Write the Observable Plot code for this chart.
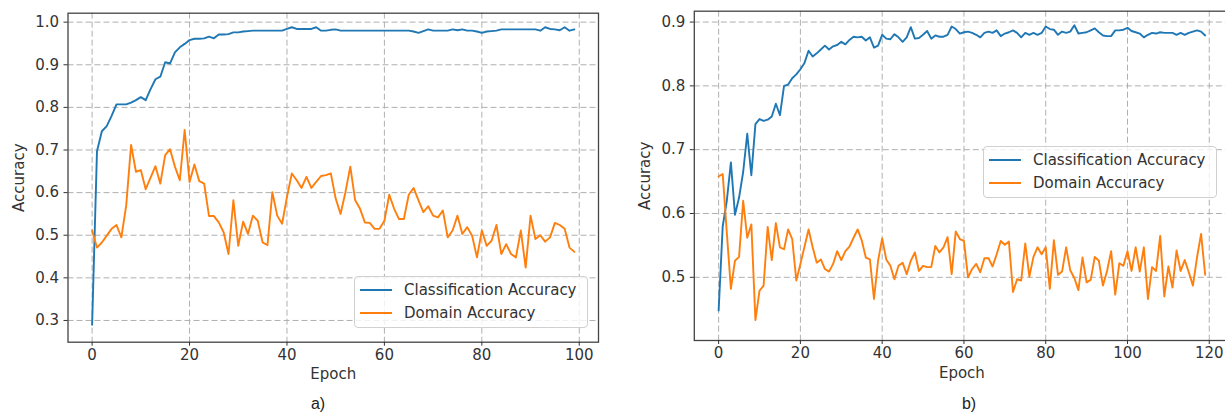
<!DOCTYPE html>
<html>
<head>
<meta charset="utf-8">
<script src="https://cdn.jsdelivr.net/npm/d3@7"></script>
<script src="https://cdn.jsdelivr.net/npm/@observablehq/plot@0.6"></script>
<style>
  html, body { margin: 0; padding: 0; background: #fff; }
  body { width: 1225px; height: 416px; overflow: hidden; position: relative; font-family: "DejaVu Sans", sans-serif; }
  .panel { position: absolute; top: 0; }
  .legend { position: absolute; background: rgba(255,255,255,0.8); border: 1px solid #d0d0d0; border-radius: 4px; box-sizing: border-box; font-family: "DejaVu Sans", sans-serif; font-size: 15px; color: #333; }
  .legend .row { position: absolute; left: 0; height: 20px; line-height: 20px; white-space: nowrap; }
  .legend .swatch { position: absolute; left: 5px; top: 9px; width: 32px; height: 2px; }
  .legend .lab { position: absolute; left: 49px; top: 0; }
  .caption { position: absolute; font-family: "Liberation Sans", Arial, sans-serif; font-size: 16px; color: #222; transform: translateX(-50%); }
</style>
</head>
<body>
<div id="pa" class="panel" style="left:0px; width:610px;"></div>
<div id="pb" class="panel" style="left:620px; width:620px;"></div>
<script>
// ---- data ----
const seriesNames = ["Classification Accuracy", "Domain Accuracy"];
const seriesColors = ["#1f77b4", "#ff7f0e"];
const xLabel = "Epoch";
const yLabel = "Accuracy";
const panelCaptions = ["a)", "b)"];

const aXTicks = [0, 20, 40, 60, 80, 100];
const aYTicks = [0.3, 0.4, 0.5, 0.6, 0.7, 0.8, 0.9, 1.0];
const bXTicks = [0, 20, 40, 60, 80, 100, 120];
const bYTicks = [0.5, 0.6, 0.7, 0.8, 0.9];

// panel a) epochs 0..99
const aClassification = [
  0.29, 0.697, 0.744, 0.756, 0.78, 0.807, 0.807, 0.807, 0.811, 0.817,
  0.824, 0.817, 0.843, 0.866, 0.872, 0.906, 0.903, 0.929, 0.941, 0.949,
  0.958, 0.961, 0.961, 0.962, 0.966, 0.962, 0.971, 0.971, 0.972, 0.976,
  0.976, 0.978, 0.979, 0.98, 0.98, 0.98, 0.98, 0.98, 0.98, 0.98,
  0.984, 0.988, 0.984, 0.984, 0.984, 0.984, 0.988, 0.98, 0.98, 0.982,
  0.983, 0.98, 0.98, 0.98, 0.98, 0.98, 0.98, 0.98, 0.98, 0.98,
  0.98, 0.98, 0.98, 0.98, 0.98, 0.98, 0.978, 0.975, 0.979, 0.983,
  0.98, 0.98, 0.98, 0.98, 0.983, 0.981, 0.983, 0.98, 0.98, 0.978,
  0.975, 0.978, 0.979, 0.98, 0.983, 0.983, 0.983, 0.983, 0.983, 0.983,
  0.983, 0.983, 0.98, 0.988, 0.984, 0.983, 0.981, 0.988, 0.98, 0.983
];
const aDomain = [
  0.511, 0.471, 0.483, 0.499, 0.515, 0.524, 0.495, 0.57, 0.712, 0.649,
  0.653, 0.608, 0.635, 0.662, 0.621, 0.688, 0.702, 0.661, 0.629, 0.747,
  0.625, 0.666, 0.627, 0.621, 0.545, 0.545, 0.53, 0.507, 0.456, 0.582,
  0.475, 0.532, 0.503, 0.546, 0.534, 0.483, 0.477, 0.601, 0.546, 0.527,
  0.59, 0.645, 0.629, 0.611, 0.637, 0.611, 0.625, 0.639, 0.641, 0.645,
  0.586, 0.55, 0.601, 0.661, 0.582, 0.562, 0.53, 0.529, 0.515, 0.515,
  0.534, 0.595, 0.562, 0.538, 0.538, 0.595, 0.611, 0.582, 0.554, 0.568,
  0.546, 0.542, 0.558, 0.495, 0.511, 0.546, 0.503, 0.519, 0.499, 0.448,
  0.511, 0.475, 0.487, 0.524, 0.456, 0.479, 0.456, 0.448, 0.511, 0.424,
  0.546, 0.491, 0.5, 0.485, 0.495, 0.529, 0.524, 0.515, 0.471, 0.461
];

// panel b) epochs 0..119
const bClassification = [
  0.448, 0.58, 0.62, 0.68, 0.598, 0.625, 0.665, 0.725, 0.66, 0.74,
  0.748, 0.745, 0.747, 0.752, 0.772, 0.754, 0.80, 0.802, 0.812, 0.818,
  0.826, 0.836, 0.855, 0.846, 0.851, 0.857, 0.863, 0.857, 0.862, 0.864,
  0.869, 0.865, 0.872, 0.877, 0.876, 0.877, 0.871, 0.876, 0.86, 0.863,
  0.88, 0.874, 0.873, 0.881, 0.876, 0.869, 0.876, 0.892, 0.874, 0.875,
  0.88, 0.886, 0.874, 0.879, 0.877, 0.877, 0.88, 0.893, 0.889, 0.882,
  0.884, 0.885, 0.883, 0.88, 0.876, 0.883, 0.885, 0.883, 0.887, 0.878,
  0.882, 0.884, 0.887, 0.883, 0.876, 0.883, 0.88, 0.883, 0.88, 0.883,
  0.893, 0.889, 0.888, 0.88, 0.885, 0.883, 0.885, 0.895, 0.882, 0.883,
  0.884, 0.887, 0.89, 0.884, 0.879, 0.878, 0.878, 0.887, 0.887, 0.888,
  0.891, 0.886, 0.884, 0.882, 0.876, 0.88, 0.883, 0.882, 0.884, 0.883,
  0.883, 0.883, 0.88, 0.883, 0.88, 0.883, 0.885, 0.887, 0.885, 0.879
];
const bDomain = [
  0.658, 0.662, 0.57, 0.482, 0.526, 0.532, 0.62, 0.562, 0.583, 0.433,
  0.479, 0.487, 0.579, 0.527, 0.585, 0.547, 0.544, 0.575, 0.56, 0.495,
  0.521, 0.548, 0.575, 0.547, 0.523, 0.528, 0.513, 0.509, 0.521, 0.541,
  0.527, 0.541, 0.548, 0.562, 0.575, 0.558, 0.531, 0.528, 0.466, 0.526,
  0.561, 0.528, 0.518, 0.497, 0.518, 0.523, 0.505, 0.526, 0.539, 0.51,
  0.518, 0.516, 0.516, 0.549, 0.539, 0.547, 0.563, 0.505, 0.572, 0.56,
  0.557, 0.5, 0.513, 0.521, 0.508, 0.53, 0.53, 0.517, 0.536, 0.557,
  0.551, 0.556, 0.477, 0.497, 0.495, 0.553, 0.501, 0.532, 0.547, 0.536,
  0.547, 0.482, 0.558, 0.504, 0.509, 0.547, 0.511, 0.499, 0.48, 0.531,
  0.492, 0.496, 0.532, 0.526, 0.487, 0.51, 0.541, 0.473, 0.522, 0.518,
  0.541, 0.51, 0.547, 0.509, 0.547, 0.466, 0.516, 0.51, 0.565, 0.47,
  0.517, 0.484, 0.542, 0.51, 0.527, 0.508, 0.487, 0.531, 0.568, 0.504
];

// ---- drawing ----
function makePanel(cls, dom, xTicks, yTicks, xDomain, yDomain, layout) {
  const rows = [
    ...cls.map((v, i) => ({epoch: i, acc: v, series: seriesNames[0]})),
    ...dom.map((v, i) => ({epoch: i, acc: v, series: seriesNames[1]}))
  ];
  const gridStyle = {stroke: "#b0b0b0", strokeOpacity: 1, strokeWidth: 1, strokeDasharray: "6,3"};
  return Plot.plot({
    width: layout.width,
    height: layout.height,
    marginLeft: layout.ml,
    marginRight: layout.mr,
    marginTop: layout.mt,
    marginBottom: layout.mb,
    style: {fontFamily: "DejaVu Sans, sans-serif", fontSize: "15px", color: "#333", background: "transparent", overflow: "visible"},
    x: {domain: xDomain},
    y: {domain: yDomain},
    color: {domain: seriesNames, range: seriesColors},
    marks: [
      Plot.gridX(xTicks, gridStyle),
      Plot.gridY(yTicks, gridStyle),
      Plot.lineY(rows, {x: "epoch", y: "acc", z: "series", stroke: "series", strokeWidth: 1.9}),
      Plot.frame({stroke: "#444", strokeWidth: 1.3}),
      Plot.axisX(xTicks, {tickSize: 4, tickPadding: 3, tickFormat: d3.format("d"),
        label: xLabel, labelAnchor: "center", labelOffset: 37, labelArrow: "none"}),
      Plot.axisY(yTicks, {tickSize: 4, tickPadding: 5, tickFormat: d3.format(".1f"),
        label: yLabel, labelAnchor: "center", labelOffset: 55, labelArrow: "none"})
    ]
  });
}

const plotA = makePanel(aClassification, aDomain, aXTicks, aYTicks, [-4.95, 103.95], [0.249, 1.021],
  {width: 610, height: 390, ml: 67.5, mr: 12, mt: 12.7, mb: 48.3});
const plotB = makePanel(bClassification, bDomain, bXTicks, bYTicks, [-5.95, 124.95], [0.401, 0.917],
  {width: 620, height: 390, ml: 73.8, mr: 11, mt: 10.7, mb: 50});
document.getElementById("pa").appendChild(plotA);
document.getElementById("pb").appendChild(plotB);

function addLegend(left, top) {
  const box = document.createElement("div");
  box.className = "legend";
  Object.assign(box.style, {left: left + "px", top: top + "px", width: "234px", height: "52px"});
  seriesNames.forEach((name, i) => {
    const row = document.createElement("div");
    row.className = "row";
    row.style.top = (3 + i * 22.5) + "px";
    row.style.width = "100%";
    const sw = document.createElement("span");
    sw.className = "swatch";
    sw.style.background = seriesColors[i];
    const lab = document.createElement("span");
    lab.className = "lab";
    lab.textContent = name;
    row.appendChild(sw);
    row.appendChild(lab);
    box.appendChild(row);
  });
  document.body.appendChild(box);
}
addLegend(354, 276);
addLegend(983, 146);

function addCaption(text, cx, top) {
  const c = document.createElement("div");
  c.className = "caption";
  c.textContent = text;
  c.style.left = cx + "px";
  c.style.top = top + "px";
  document.body.appendChild(c);
}
addCaption(panelCaptions[0], 318, 395);
addCaption(panelCaptions[1], 969, 395);
</script>
</body>
</html>
